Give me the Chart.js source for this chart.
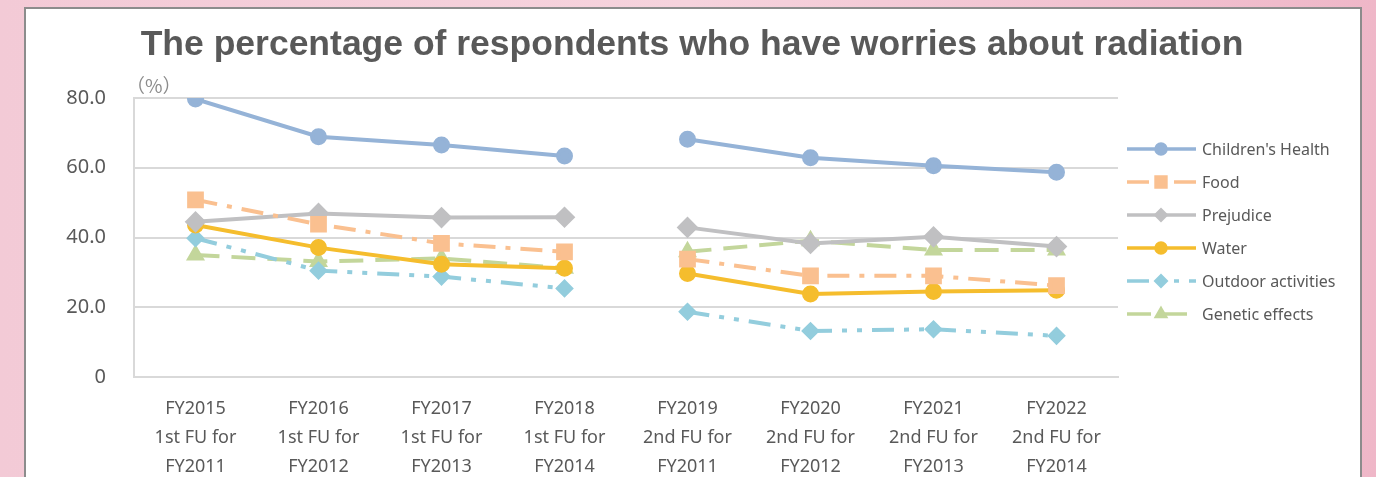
<!DOCTYPE html>
<html>
<head>
<meta charset="utf-8">
<script src="https://cdn.jsdelivr.net/npm/chart.js@4/dist/chart.umd.min.js"></script>
<style>
  html, body { margin: 0; padding: 0; width: 1376px; height: 477px; overflow: hidden; background: #f3c6d3; }
  canvas { display: block; }
</style>
</head>
<body>
<canvas id="chart" width="1376" height="477"></canvas>
<script>
// --- data ---
const categories = [
  ["FY2015", "1st FU for", "FY2011"],
  ["FY2016", "1st FU for", "FY2012"],
  ["FY2017", "1st FU for", "FY2013"],
  ["FY2018", "1st FU for", "FY2014"],
  ["FY2019", "2nd FU for", "FY2011"],
  ["FY2020", "2nd FU for", "FY2012"],
  ["FY2021", "2nd FU for", "FY2013"],
  ["FY2022", "2nd FU for", "FY2014"],
];
const childrensHealth = [79.7, 68.9, 66.5, 63.4, 68.2, 62.9, 60.6, 58.7];
const food = [50.8, 43.8, 38.3, 35.9, 33.8, 29.0, 29.0, 26.2];
const prejudice = [44.5, 46.9, 45.7, 45.8, 42.9, 38.3, 40.2, 37.4];
const water = [43.6, 37.1, 32.3, 31.2, 29.7, 23.8, 24.5, 24.9];
const outdoor = [39.8, 30.5, 28.8, 25.4, 18.7, 13.2, 13.7, 11.8];
const genetic = [35.0, 33.1, 34.0, 31.2, 35.9, 39.1, 36.4, 36.4];
const yTicks = [0, 20, 40, 60, 80];

const textGray = "#595959";
const font = "'Noto Sans', 'Liberation Sans', sans-serif";

// break between the 1st FU block and the 2nd FU block
const breakAfter = 3;

function series(label, data, color, pointStyle, radius, dash) {
  return {
    label,
    data,
    borderColor: color,
    backgroundColor: color,
    pointBackgroundColor: color,
    pointBorderColor: color,
    borderWidth: 4,
    borderDash: dash,
    pointStyle,
    pointRadius: radius,
    pointHoverRadius: radius,
    tension: 0,
    segment: {
      borderColor: (ctx) => (ctx.p0DataIndex === breakAfter ? "rgba(0,0,0,0)" : undefined),
    },
  };
}

const datasets = [
  series("Children's Health", childrensHealth, "#95b3d7", "circle", 6.5, []),
  series("Food", food, "#fac090", "rect", 9, [22, 10, 5, 10]),
  series("Prejudice", prejudice, "#c0c0c2", "rectRot", 8, []),
  series("Water", water, "#f5bd2d", "circle", 6.5, []),
  series("Outdoor activities", outdoor, "#93cddd", "rectRot", 6.5, [22, 10, 5, 10, 5, 10]),
  series("Genetic effects", genetic, "#c3d69b", "triangle", 7, [24, 12]),
];

// pink page + white panel, title, unit and legend
const backdrop = {
  id: "backdrop",
  beforeDraw(chart) {
    const ctx = chart.ctx;
    ctx.save();
    const g = ctx.createLinearGradient(0, 0, 1376, 0);
    g.addColorStop(0, "#f3cad6");
    g.addColorStop(0.5, "#f6d3dd");
    g.addColorStop(1, "#efb7c8");
    ctx.fillStyle = g;
    ctx.fillRect(0, 0, 1376, 477);
    ctx.fillStyle = "#ffffff";
    ctx.fillRect(25, 8, 1336, 480);
    ctx.strokeStyle = "#8c8c8c";
    ctx.lineWidth = 2;
    ctx.strokeRect(25, 8, 1336, 480);
    ctx.restore();
  },
  afterDraw(chart) {
    const ctx = chart.ctx;
    ctx.save();
    // title
    ctx.fillStyle = textGray;
    ctx.font = "bold 35.5px 'Liberation Sans', Arial, sans-serif";
    ctx.textAlign = "center";
    ctx.textBaseline = "middle";
    ctx.fillText("The percentage of respondents who have worries about radiation", 692, 45);
    // unit
    ctx.fillStyle = "#8c8c8c";
    ctx.font = "19px 'Noto Sans CJK JP', sans-serif";
    ctx.textAlign = "left";
    ctx.fillText("（%）", 126, 86);

    // legend
    chart.data.datasets.forEach((ds, i) => {
      const y = 149 + 33 * i;
      ctx.strokeStyle = ds.borderColor;
      ctx.fillStyle = ds.borderColor;
      ctx.lineWidth = 3.5;
      ctx.setLineDash(ds.borderDash || []);
      ctx.beginPath();
      ctx.moveTo(1127, y);
      ctx.lineTo(1196, y);
      ctx.stroke();
      ctx.setLineDash([]);
      Chart.helpers.drawPoint(ctx, {
        pointStyle: ds.pointStyle,
        radius: ds.pointStyle === "rect" ? 7 : 5,
        rotation: 0,
        borderWidth: 1,
      }, 1161, y);
      ctx.fillStyle = textGray;
      ctx.font = "16px " + font;
      ctx.textAlign = "left";
      ctx.textBaseline = "middle";
      ctx.fillText(ds.label, 1202, y + 1);
    });
    ctx.restore();
  },
};

new Chart(document.getElementById("chart"), {
  type: "line",
  data: { labels: categories, datasets },
  options: {
    responsive: false,
    animation: false,
    events: [],
    layout: { padding: { left: 25, right: 258, top: 98, bottom: 0 } },
    plugins: {
      legend: { display: false },
      title: { display: false },
      tooltip: { enabled: false },
    },
    scales: {
      x: {
        offset: true,
        grid: { display: false, drawTicks: false },
        border: { display: true, color: "#d9d9d9", width: 2 },
        ticks: {
          color: textGray,
          font: { family: font, size: 18, lineHeight: 1.62 },
          padding: 17,
          maxRotation: 0,
          autoSkip: false,
        },
        afterFit(scale) { scale.height = 100; },
      },
      y: {
        min: 0,
        max: 80,
        afterBuildTicks(scale) { scale.ticks = yTicks.map((v) => ({ value: v })); },
        grid: { color: "#d9d9d9", lineWidth: 2, drawTicks: false },
        border: { display: true, color: "#d9d9d9", width: 2 },
        ticks: {
          color: textGray,
          font: { family: font, size: 20 },
          padding: 28,
          callback: (v) => (v === 0 ? "0" : v.toFixed(1)),
        },
        afterFit(scale) { scale.width = 109; },
      },
    },
  },
  plugins: [backdrop],
});
</script>
</body>
</html>
